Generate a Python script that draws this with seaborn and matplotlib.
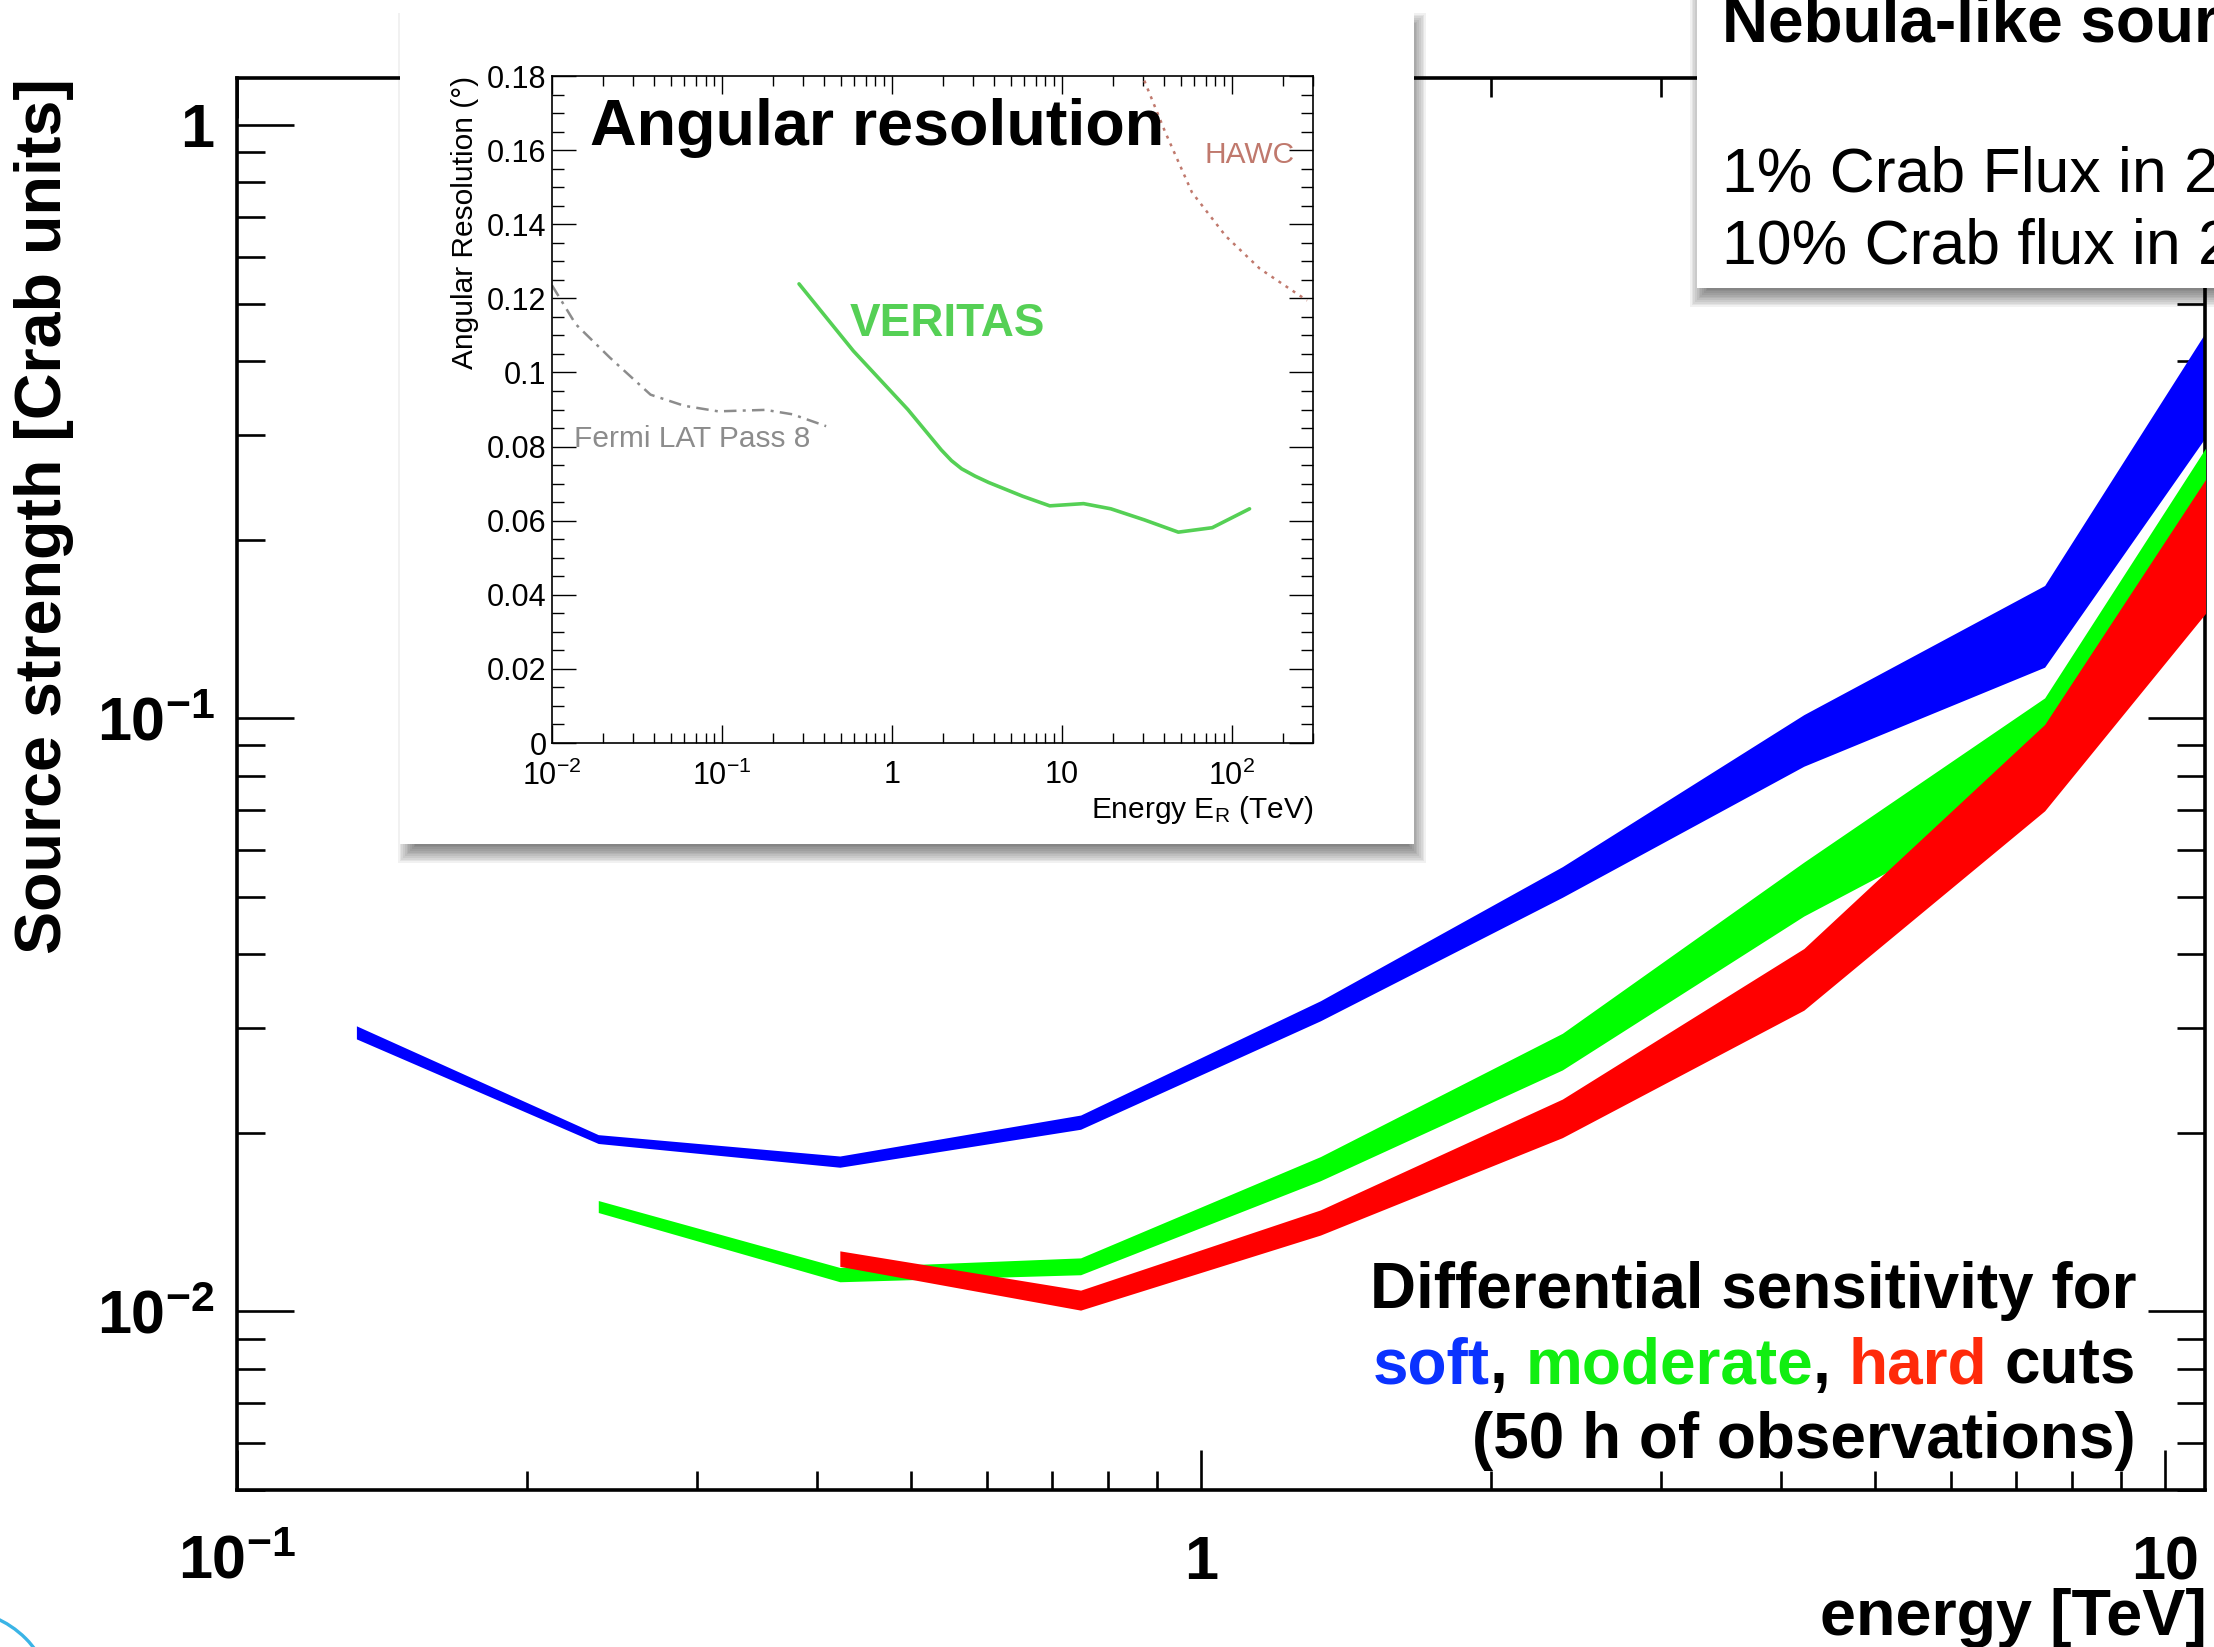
import numpy as np
import pandas as pd
import matplotlib
matplotlib.use("Agg")
import matplotlib.pyplot as plt
import seaborn as sns
from matplotlib.patches import Rectangle, Ellipse
from matplotlib.ticker import LogLocator, NullFormatter, MultipleLocator

# ---------------- data ----------------
soft_energy = [0.133, 0.237, 0.422, 0.750, 1.33, 2.37, 4.22, 7.50, 13.3]
soft_upper = [0.0303, 0.01986, 0.01828, 0.02143, 0.0334, 0.0562, 0.1014, 0.1674, 0.724]
soft_lower = [0.0288, 0.01919, 0.01750, 0.02028, 0.0309, 0.0499, 0.0830, 0.1219, 0.461]

moderate_energy = [0.237, 0.422, 0.750, 1.33, 2.37, 4.22, 7.50, 13.3]
moderate_upper = [0.01538, 0.01186, 0.01231, 0.01824, 0.02943, 0.0572, 0.1082, 0.459]
moderate_lower = [0.01468, 0.01122, 0.01153, 0.01661, 0.02553, 0.0464, 0.0760, 0.268]

hard_energy = [0.422, 0.750, 1.33, 2.37, 4.22, 7.50, 13.3]
hard_upper = [0.01265, 0.01086, 0.01483, 0.0228, 0.0409, 0.0976, 0.4027]
hard_lower = [0.01191, 0.01005, 0.01345, 0.01963, 0.0322, 0.0698, 0.2188]

main_xticks = [0.1, 1, 10]
main_xticklabels = [r"$\mathbf{10^{-1}}$", r"$\mathbf{1}$", r"$\mathbf{10}$"]
main_yticks = [0.01, 0.1, 1]
main_yticklabels = [r"$\mathbf{10^{-2}}$", r"$\mathbf{10^{-1}}$", r"$\mathbf{1}$"]

# inset: angular resolution
veritas_e = [0.284, 0.593, 1.24, 1.95, 2.24, 2.57, 3.09, 3.71, 5.87, 8.48, 13.4, 19.4,
             30.6, 48.4, 76.6, 127]
veritas_res = [0.1239, 0.1058, 0.0900, 0.0791, 0.0762, 0.0740, 0.0720, 0.0703, 0.0666,
               0.0640, 0.0646, 0.0632, 0.0602, 0.0569, 0.0581, 0.0632]
fermi_e = [0.010, 0.0138, 0.0219, 0.038, 0.060, 0.095, 0.18, 0.26, 0.41]
fermi_res = [0.1235, 0.113, 0.104, 0.094, 0.091, 0.0895, 0.0899, 0.0887, 0.0855]
hawc_e = [28.0, 40.4, 58.2, 92.0, 146.0, 277.0]
hawc_res = [0.183, 0.165, 0.1486, 0.1368, 0.128, 0.1194]

inset_xticks = [0.01, 0.1, 1, 10, 100]
inset_xticklabels = [r"$10^{-2}$", r"$10^{-1}$", "1", "10", r"$10^{2}$"]
inset_yticks = [0, 0.02, 0.04, 0.06, 0.08, 0.10, 0.12, 0.14, 0.16, 0.18]
inset_yticklabels = ["0", "0.02", "0.04", "0.06", "0.08", "0.1", "0.12", "0.14", "0.16", "0.18"]

# ---------------- style ----------------
sns.set_theme(style="ticks")
plt.rcParams["font.family"] = ["Liberation Sans", "DejaVu Sans"]
plt.rcParams["mathtext.fontset"] = "custom"
plt.rcParams["mathtext.rm"] = "Liberation Sans"
plt.rcParams["mathtext.bf"] = "Liberation Sans:bold"
plt.rcParams["mathtext.it"] = "Liberation Sans:italic"
plt.rcParams["axes.facecolor"] = "none"

W, H, DPI = 2214, 1647, 100
fig = plt.figure(figsize=(W / DPI, H / DPI), dpi=DPI)
fig.patch.set_facecolor("white")


def fx(px):
    return px / W


def fy(py):
    return 1 - py / H


def shadow_box(x0, y0, x1, y1, dx, dy, shrink, blur, alpha, z):
    n = 16
    a = 1 - (1 - alpha) ** (1.0 / n)
    sx0, sy0, sx1, sy1 = x0 + shrink + dx, y0 + shrink + dy, x1 - shrink + dx, y1 - shrink + dy
    for k in range(n):
        g = -blur + 2 * blur * (k + 0.5) / n
        fig.add_artist(Rectangle((fx(sx0 - g), fy(sy1 + g)),
                                 (sx1 - sx0 + 2 * g) / W, (sy1 - sy0 + 2 * g) / H,
                                 transform=fig.transFigure, fc="black", ec="none",
                                 alpha=a, zorder=z))
    fig.add_artist(Rectangle((fx(x0), fy(y1)), (x1 - x0) / W, (y1 - y0) / H,
                             transform=fig.transFigure, fc="white", ec="none", zorder=z))


# ---------------- main axes ----------------
ax = fig.add_axes([fx(237), fy(1490), (2205 - 237) / W, (1490 - 78) / H], zorder=0)
ax.set_xscale("log")
ax.set_yscale("log")

bands = [
    (soft_energy, soft_lower, soft_upper, "#0000ff"),
    (moderate_energy, moderate_lower, moderate_upper, "#00ff00"),
    (hard_energy, hard_lower, hard_upper, "#ff0000"),
]
for i, (e, lo, hi, c) in enumerate(bands):
    ax.fill_between(e, lo, hi, color=c, lw=0, zorder=2 + i)

ax.set_xlim(0.1, 11.0)
ax.set_ylim(0.005, 1.2)

ax.set_xticks(main_xticks, main_xticklabels, va="baseline", fontsize=44)
ax.set_yticks(main_yticks, main_yticklabels, fontsize=44)
ax.xaxis.set_minor_locator(LogLocator(base=10, subs=np.arange(2, 10), numticks=30))
ax.yaxis.set_minor_locator(LogLocator(base=10, subs=np.arange(2, 10), numticks=30))
ax.xaxis.set_minor_formatter(NullFormatter())
ax.yaxis.set_minor_formatter(NullFormatter())
ax.tick_params(which="both", direction="in", top=True, right=True, color="black",
               width=1.9, labelcolor="black")
ax.tick_params(axis="x", which="major", length=29, pad=64)
ax.tick_params(axis="x", which="minor", length=13.5)
ax.tick_params(axis="y", which="major", length=41, pad=16)
ax.tick_params(axis="y", which="minor", length=20)
for s in ax.spines.values():
    s.set_linewidth(2.6)
    s.set_color("black")
ax.grid(False)

ax.set_ylabel("Source strength [Crab units]", fontsize=46.5, fontweight="bold",
              loc="top", color="black")
ax.yaxis.set_label_coords(-0.083, 1.0)
ax.set_xlabel("energy [TeV]", fontsize=46.5, fontweight="bold", loc="right", color="black")
ax.xaxis.set_label_coords(1.001, -0.1025)
ax.xaxis.label.set_va("baseline")

# ---------------- annotation lower right ----------------
renderer = fig.canvas.get_renderer()
right_px = 2136
fs_note = 46
fig.text(fx(right_px), fy(1308), "Differential sensitivity for", ha="right",
         va="baseline", fontsize=fs_note, fontweight="bold", color="black", zorder=6)
fig.text(fx(right_px), fy(1458), "(50 h of observations)", ha="right",
         va="baseline", fontsize=fs_note, fontweight="bold", color="black", zorder=6)

full_line = "soft, moderate, hard cuts"
pieces = [(0, "soft", "#0a32ff"), (4, ",", "black"), (6, "moderate", "#11ee11"),
          (14, ",", "black"), (16, "hard", "#ff2a0a"), (21, "cuts", "black")]


def text_width(s):
    t = fig.text(0, 0, s, fontsize=fs_note, fontweight="bold")
    w = t.get_window_extent(renderer).width
    t.remove()
    return w


for start, word, col in pieces:
    wsuf = text_width(full_line[start:])
    fig.text(fx(right_px - wsuf), fy(1383), word, ha="left", va="baseline",
             fontsize=fs_note, fontweight="bold", color=col, zorder=6)

# ---------------- inset box ----------------
shadow_box(400, 8, 1414, 844, 5, 12, 6, 14, 0.6, 1)

axin = fig.add_axes([fx(552), fy(743), (1313 - 552) / W, (743 - 76) / H], zorder=2)
axin.set_facecolor("white")
axin.set_xscale("log")

sns.lineplot(x=fermi_e, y=fermi_res, ax=axin, color="#8c8c8c", lw=1.8,
             linestyle=(0, (5, 2.5, 1.2, 2.5)))
sns.lineplot(x=hawc_e, y=hawc_res, ax=axin, color="#c0796d", lw=1.8,
             linestyle=(0, (1.2, 2.2)))
sns.lineplot(x=veritas_e, y=veritas_res, ax=axin, color="#55d055", lw=2.6)

axin.set_xlim(0.01, 300)
axin.set_ylim(0, 0.18)
axin.set_xticks(inset_xticks, inset_xticklabels, fontsize=22)
axin.set_yticks(inset_yticks, inset_yticklabels, fontsize=22)
axin.xaxis.set_minor_locator(LogLocator(base=10, subs=np.arange(2, 10), numticks=30))
axin.xaxis.set_minor_formatter(NullFormatter())
axin.yaxis.set_minor_locator(MultipleLocator(0.005))
axin.tick_params(which="both", direction="in", top=True, right=True, color="black",
                 width=1.0, labelcolor="black")
axin.tick_params(axis="x", which="major", length=13, pad=12.5)
axin.tick_params(axis="x", which="minor", length=7.5)
axin.tick_params(axis="y", which="major", length=17, pad=4)
axin.tick_params(axis="y", which="minor", length=8.5)
for s in axin.spines.values():
    s.set_linewidth(1.2)
    s.set_color("black")
axin.grid(False)

axin.set_ylabel("Angular Resolution (°)", fontsize=21.5, loc="top", color="black")
axin.yaxis.set_label_coords(-0.1143, 1.0)
axin.yaxis.label.set_va("center")
axin.set_xlabel(r"Energy E$_\mathrm{R}$ (TeV)", fontsize=21.5, loc="right", color="black")
axin.xaxis.set_label_coords(1.0, -0.113)
axin.xaxis.label.set_va("baseline")

axin.text(0.05, 0.8966, "Angular resolution", transform=axin.transAxes, fontsize=46.5,
          fontweight="bold", color="black", va="baseline", ha="left")
axin.text(0.3916, 0.610, "VERITAS", transform=axin.transAxes, fontsize=33,
          fontweight="bold", color="#55d055", va="baseline", ha="left")
axin.text(0.858, 0.8696, "HAWC", transform=axin.transAxes, fontsize=21.5,
          color="#c0796d", va="baseline", ha="left")
axin.text(0.0289, 0.4438, "Fermi LAT Pass 8", transform=axin.transAxes, fontsize=21.5,
          color="#8c8c8c", va="baseline", ha="left")

# ---------------- top-right box (cut by the page edge) ----------------
shadow_box(1697, -60, 2400, 288, 0, 12, 6, 14, 0.6, 3)
fig.text(fx(1722), fy(42), "Nebula-like sources", fontsize=46, fontweight="bold",
         va="baseline", ha="left", color="black", zorder=4)
fig.text(fx(1722), fy(191), "1% Crab Flux in 25 h", fontsize=45,
         va="baseline", ha="left", color="black", zorder=4)
fig.text(fx(1722), fy(264), "10% Crab flux in 2 h", fontsize=45,
         va="baseline", ha="left", color="black", zorder=4)

# ---------------- logo fragment bottom left ----------------
fig.add_artist(Ellipse((fx(-43), fy(1707)), 2 * 97 / W, 2 * 97 / H,
                       transform=fig.transFigure, fill=False, ec="#3ab4e6",
                       lw=2.4, zorder=5))

fig.savefig("out.png", dpi=DPI, facecolor="white")
